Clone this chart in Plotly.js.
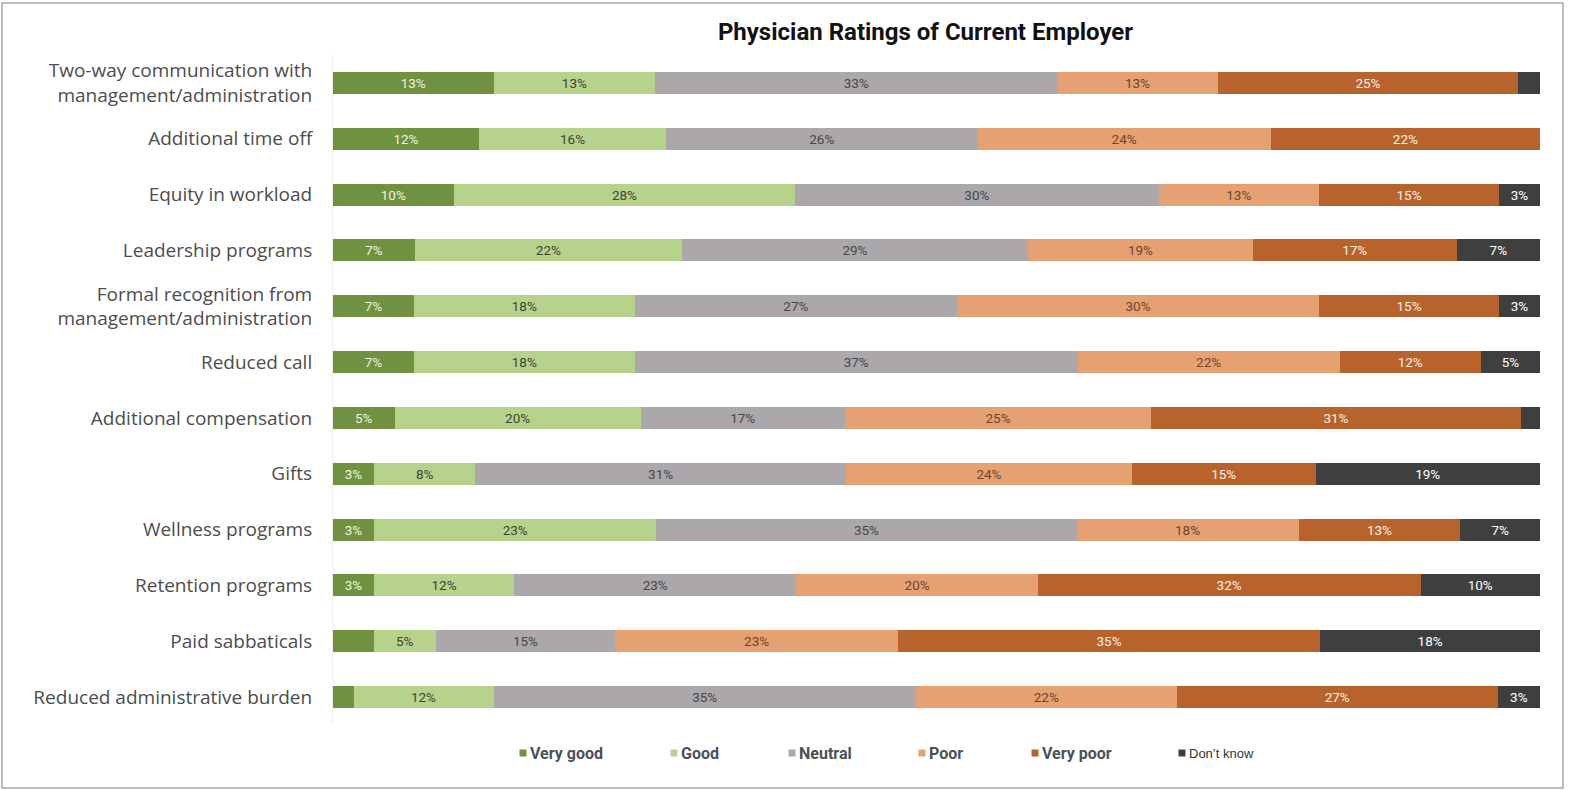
<!DOCTYPE html>
<html>
<head>
<meta charset="utf-8">
<script src="https://cdn.plot.ly/plotly-3.0.1.min.js"></script>
<style>
  html, body { margin: 0; padding: 0; background: #ffffff; }
  #chart { width: 1570px; height: 790px; }
</style>
</head>
<body>
<div id="chart"></div>
<script>
// ---- Data ----
const categories = [
  "Two-way communication with<br>management/administration",
  "Additional time off",
  "Equity in workload",
  "Leadership programs",
  "Formal recognition from<br>management/administration",
  "Reduced call",
  "Additional compensation",
  "Gifts",
  "Wellness programs",
  "Retention programs",
  "Paid sabbaticals",
  "Reduced administrative burden"
];
const seriesNames = ["Very good", "Good", "Neutral", "Poor", "Very poor", "Don\u2019t know"];

const veryGood = [13.3, 12.1, 10.0, 6.8, 6.7, 6.7, 5.1, 3.4, 3.4, 3.4, 3.4, 1.7];
const good     = [13.4, 15.5, 28.3, 22.1, 18.3, 18.3, 20.4, 8.4, 23.4, 11.6, 5.1, 11.6];
const neutral  = [33.3, 25.8, 30.1, 28.7, 26.7, 36.7, 16.9, 30.7, 34.8, 23.4, 14.9, 35.0];
const poor     = [13.3, 24.3, 13.3, 18.6, 30.0, 21.7, 25.4, 23.7, 18.4, 20.0, 23.4, 21.6];
const veryPoor = [24.9, 22.3, 14.9, 16.9, 14.9, 11.7, 30.6, 15.2, 13.4, 31.7, 35.0, 26.6];
const dontKnow = [1.8, 0, 3.4, 6.9, 3.4, 4.9, 1.6, 18.6, 6.6, 9.9, 18.2, 3.5];

// Printed labels (null = not printed)
const veryGoodLabels = [13, 12, 10, 7, 7, 7, 5, 3, 3, 3, null, null];
const goodLabels     = [13, 16, 28, 22, 18, 18, 20, 8, 23, 12, 5, 12];
const neutralLabels  = [33, 26, 30, 29, 27, 37, 17, 31, 35, 23, 15, 35];
const poorLabels     = [13, 24, 13, 19, 30, 22, 25, 24, 18, 20, 23, 22];
const veryPoorLabels = [25, 22, 15, 17, 15, 12, 31, 15, 13, 32, 35, 27];
const dontKnowLabels = [null, null, 3, 7, 3, 5, null, 19, 7, 10, 18, 3];

// ---- Styles ----
const colors     = ["#6f9140", "#b6d28b", "#aba7aa", "#e5a172", "#b8632c", "#3f3f3f"];
const textColors = ["#eef3e2", "#3f4537", "#474747", "#6b4530", "#fbf1e6", "#ffffff"];

const values = [veryGood, good, neutral, poor, veryPoor, dontKnow];
const labels = [veryGoodLabels, goodLabels, neutralLabels, poorLabels, veryPoorLabels, dontKnowLabels];

const traces = values.map((vals, i) => ({
  type: "bar",
  orientation: "h",
  name: seriesNames[i],
  y: categories,
  x: vals,
  marker: { color: colors[i], line: { width: 0 } },
  text: labels[i].map(v => v == null ? "" : v + "%"),
  textposition: "inside",
  insidetextanchor: "middle",
  textangle: 0,
  constraintext: "none",
  textfont: { family: "Liberation Sans Narrow, Roboto, sans-serif", size: 13.5, color: textColors[i] },
  hoverinfo: "skip",
  showlegend: false
}));

// ---- Layout helpers (pixel -> paper) ----
const M = { l: 333, r: 30, t: 55, b: 65 };
const W = 1570, H = 790;
const pw = W - M.l - M.r, ph = H - M.t - M.b;
const px2x = px => (px - M.l) / pw;
const py2y = py => (H - M.b - py) / ph;

const legendMarkers = [523, 674, 792, 922, 1035, 1182];
const legendTextX   = [528, 679, 797, 927, 1040, 1187];
const legendY = 753;

const shapes = [];
const annotations = [];
seriesNames.forEach((n, i) => {
  shapes.push({
    type: "rect", xref: "paper", yref: "paper",
    x0: px2x(legendMarkers[i] - 3.5), x1: px2x(legendMarkers[i] + 3.5),
    y0: py2y(legendY + 3.5), y1: py2y(legendY - 3.5),
    fillcolor: colors[i], line: { width: 0 }
  });
  const last = i === seriesNames.length - 1;
  annotations.push({
    xref: "paper", yref: "paper",
    x: px2x(legendTextX[i]), y: py2y(legendY),
    xanchor: "left", yanchor: "middle",
    text: n, showarrow: false,
    font: last
      ? { family: "Liberation Sans, Arial, sans-serif", size: 13, color: "#333333" }
      : { family: "Liberation Sans Narrow, Roboto, sans-serif", size: 16, color: "#4b5058", weight: 700 }
  });
});
// outer frame
shapes.push({
  type: "rect", xref: "paper", yref: "paper",
  x0: px2x(2), x1: px2x(1563), y0: py2y(3), y1: py2y(788),
  line: { color: "#a8a8a8", width: 1.5 }, fillcolor: "rgba(0,0,0,0)", layer: "below"
});

const layout = {
  width: W, height: H,
  margin: M,
  paper_bgcolor: "#ffffff",
  plot_bgcolor: "#ffffff",
  barmode: "stack",
  bargap: 0.605,
  title: {
    text: "<b>Physician Ratings of Current Employer</b>",
    xref: "container", x: 925.5 / W, xanchor: "center",
    yref: "container", y: 1 - 32 / H, yanchor: "middle",
    font: { family: "Roboto, sans-serif", size: 24, color: "#111111", weight: 900 }
  },
  xaxis: {
    range: [0, 100], visible: false, fixedrange: true
  },
  yaxis: {
    type: "category",
    autorange: "reversed",
    showgrid: false, zeroline: false,
    showline: true, linecolor: "#eeeeee", linewidth: 1,
    ticks: "", ticklabelstandoff: 16,
    tickfont: { family: "Open Sans, sans-serif", size: 19, color: "#4d4d4d" },
    fixedrange: true
  },
  shapes: shapes,
  annotations: annotations,
  showlegend: false
};

Plotly.newPlot("chart", traces, layout, { displayModeBar: false, staticPlot: true });
</script>
</body>
</html>
